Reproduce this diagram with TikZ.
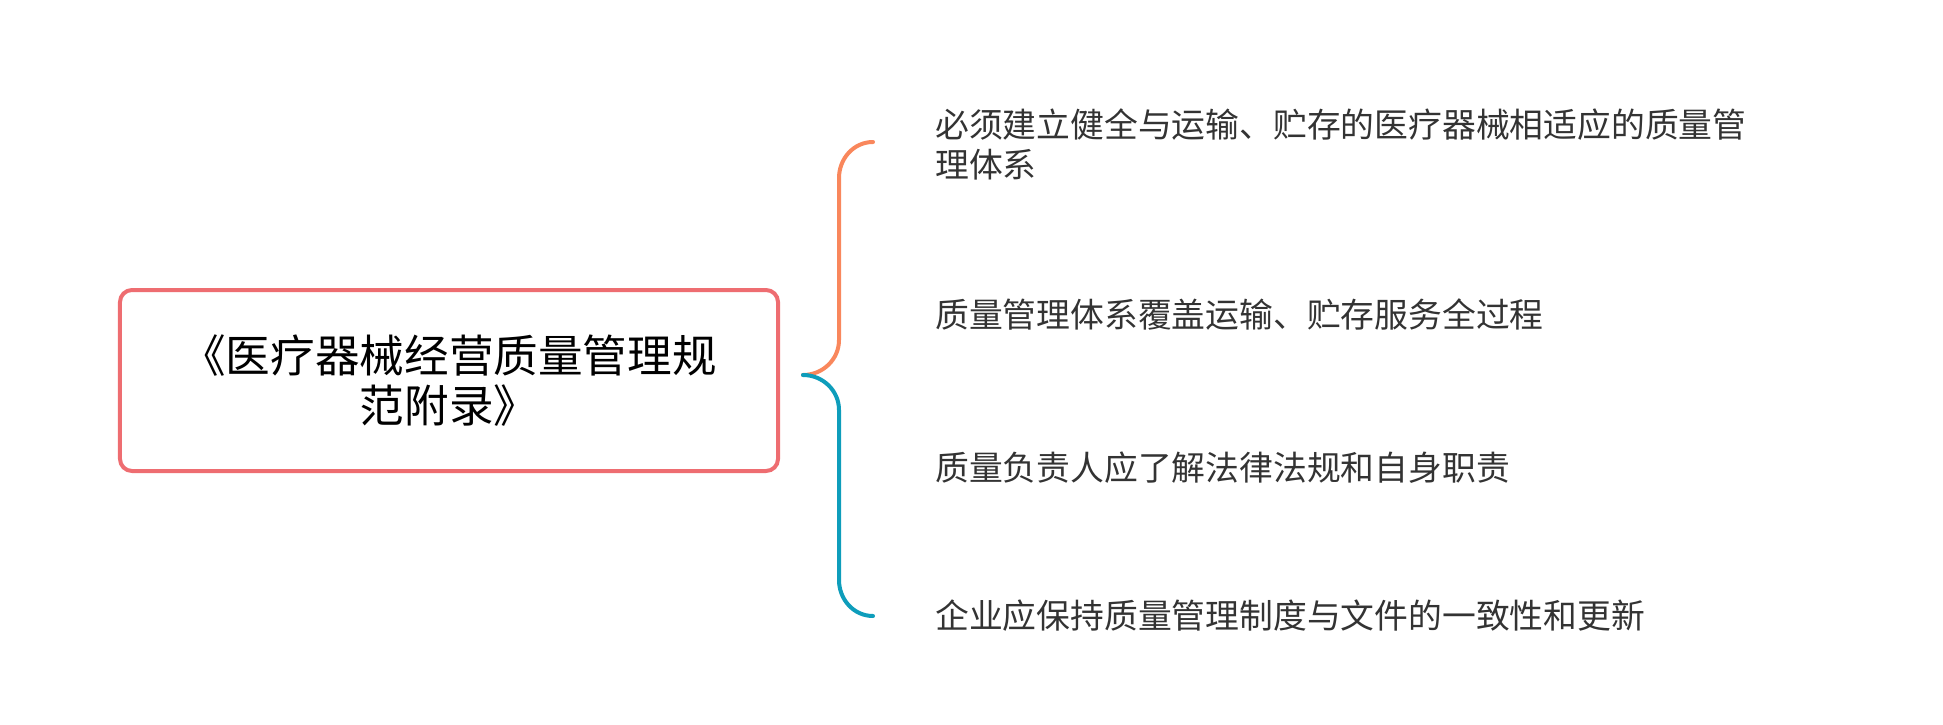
\documentclass[tikz,border=0pt]{standalone}
\usepackage{fontspec}
\setmainfont{Noto Sans CJK SC}
\definecolor{rootred}{HTML}{EE6D71}
\definecolor{braceorange}{HTML}{F9875C}
\definecolor{braceblue}{HTML}{0E9DBB}
\definecolor{txt}{HTML}{333333}
\begin{document}
\begin{tikzpicture}[x=1bp,y=-1bp,
  rootbox/.style={draw=rootred, line width=4bp, rounded corners=12bp, fill=white,
    minimum width=658bp, minimum height=181bp, inner sep=0pt, align=center,
    font=\fontsize{44.6bp}{50bp}\selectfont, text=black},
  leaf/.style={anchor=west, inner sep=0pt, align=left, text=txt,
    font=\fontsize{33.8bp}{40bp}\selectfont},
  branch/.style={line width=4bp, line cap=round}]
\useasboundingbox (0,0) rectangle (1943,725);
\node[rootbox] (root) at (449,380.5) {《医疗器械经营质量管理规\\范附录》};
\coordinate (hub) at (803,375);
\node[leaf] (l1) at (935,144) {必须建立健全与运输、贮存的医疗器械相适应的质量管\\理体系};
\node[leaf] (l2) at (935,315) {质量管理体系覆盖运输、贮存服务全过程};
\node[leaf] (l3) at (935,468) {质量负责人应了解法律法规和自身职责};
\node[leaf] (l4) at (935,616) {企业应保持质量管理制度与文件的一致性和更新};
\coordinate (t1) at (873,142);
\coordinate (t4) at (873,616);
\draw[branch, braceorange] (hub) to[out=0,in=-90] (839,340) -- (839,178) to[out=90,in=180] (t1);
\draw[branch, braceblue] (hub) to[out=0,in=90] (839,410) -- (839,580) to[out=-90,in=180] (t4);
\end{tikzpicture}
\end{document}
